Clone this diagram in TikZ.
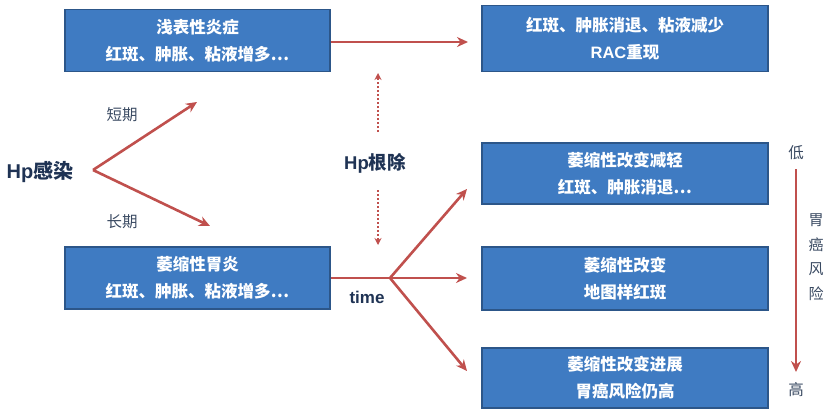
\documentclass[tikz,border=0pt]{standalone}
\usepackage{fontspec}
\setmainfont{Liberation Sans}
\newfontfamily\cjk{Noto Sans CJK SC}
\usetikzlibrary{arrows.meta}
\definecolor{boxblue}{HTML}{3F7BC2}
\definecolor{boxedge}{HTML}{2C5689}
\definecolor{arr}{HTML}{C0504D}
\definecolor{navy}{HTML}{1F3354}
\definecolor{lab}{HTML}{3A4A62}
\tikzset{
  bluebox/.style={draw=boxedge, line width=1.2pt, fill=boxblue, text=white, minimum width=265pt, minimum height=62pt, inner sep=0pt, align=center, font=\fontsize{16.5}{27}\selectfont\cjk\bfseries, anchor=center},
  rbox/.style={bluebox, minimum width=286pt},
  redarrow/.style={draw=arr, line width=2.6pt, -{Stealth[length=11pt,width=10pt]}},
  redline/.style={draw=arr, line width=2.6pt},
  dotarrow/.style={draw=arr, line width=2pt, dotted, -{Stealth[length=7pt,width=7pt]}},
  biglab/.style={text=navy, font=\fontsize{20}{22}\selectfont\bfseries},
  smlab/.style={text=lab, font=\fontsize{15.5}{18}\selectfont\cjk},
}
\begin{document}
\begin{tikzpicture}[x=1pt,y=-1pt]
\useasboundingbox (0,0) rectangle (832,413);
% boxes
\node[bluebox] (b1) at (197.5,40.5) {浅表性炎症\\红斑、肿胀、粘液增多…};
\node[bluebox] (bL) at (197.5,278) {萎缩性胃炎\\红斑、肿胀、粘液增多…};
\node[rbox, minimum height=66pt] (b2) at (625,38.5) {红斑、肿胀消退、粘液减少\\{\rmfamily\bfseries RAC}重现};
\node[rbox, minimum height=61pt] (b3) at (625,173.5) {萎缩性改变减轻\\红斑、肿胀消退…};
\node[rbox, minimum height=63pt] (b4) at (625,278.5) {萎缩性改变\\地图样红斑};
\node[rbox, minimum height=60pt] (b5) at (625,378) {萎缩性改变进展\\胃癌风险仍高};
% left labels
\node[biglab] (hp) at (40,172) {Hp{\cjk 感染}};
\coordinate (v1) at (93,170);
\coordinate (e1) at (197,102);
\coordinate (e2) at (210,226);
\node[smlab] (short) at (122,115) {短期};
\node[smlab] (long) at (122,222) {长期};
\draw[redarrow] (v1) -- (e1);
\draw[redarrow] (v1) -- (e2);
% top arrow
\coordinate (t1) at (468,42);
\draw[redarrow] (b1.east |- t1) -- (t1);
% Hp eradication
\node[biglab, font=\fontsize{18.5}{22}\selectfont\bfseries] (er) at (375,163) {Hp{\cjk 根除}};
\coordinate (du) at (378,73);
\coordinate (dd) at (378,245);
\coordinate (ds1) at (378,132);
\coordinate (ds2) at (378,190);
\draw[dotarrow] (ds1) -- (du);
\draw[dotarrow] (ds2) -- (dd);
% bottom branching
\coordinate (v2) at (390,278);
\draw[redline] (bL.east) -- (v2);
\coordinate (f1) at (467,189);
\coordinate (f2) at (467,278);
\coordinate (f3) at (467,371);
\draw[redarrow] (v2) -- (f1);
\draw[redarrow] (v2) -- (f2);
\draw[redarrow] (v2) -- (f3);
\node[text=navy, font=\fontsize{17}{20}\selectfont\bfseries] (time) at (367,297) {time};
% risk scale
\node[smlab] (low) at (796,153) {低};
\node[smlab] (high) at (796,390) {高};
\coordinate (rs) at (796,169);
\coordinate (re) at (796,372);
\draw[redarrow] (rs) -- (re);
\node[smlab, align=center, font=\fontsize{15}{24.5}\selectfont\cjk] (risk) at (816,257) {胃\\癌\\风\\险};
\end{tikzpicture}
\end{document}
